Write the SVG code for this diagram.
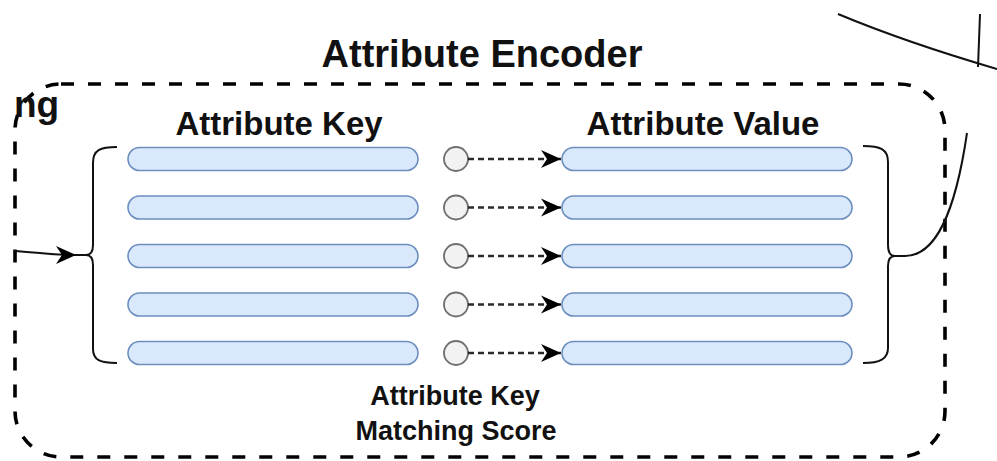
<svg xmlns="http://www.w3.org/2000/svg" width="997" height="461" viewBox="0 0 997 461">
<style>
text{font-family:"Liberation Sans",Arial,sans-serif;font-weight:bold;fill:#111;}
.bar{fill:#dae8fc;stroke:#6c8ebf;stroke-width:1.6;}
.dot{fill:#f2f2f2;stroke:#6e6e6e;stroke-width:1.8;}
.dash{fill:none;stroke:#2a2a2a;stroke-width:2.4;stroke-dasharray:6 4;}
.line{fill:none;stroke:#111;stroke-width:2;}
.frame{fill:none;stroke:#000;stroke-width:3.6;stroke-dasharray:13 14;}
</style>
<defs>
<marker id="ah" markerUnits="userSpaceOnUse" markerWidth="22" markerHeight="20" refX="20" refY="10" orient="auto">
<path d="M0,1 L20,10 L0,19 L6,10 Z" fill="#000" stroke="none"/>
</marker>
</defs>
<g id="outside-lines">
<path class="line" d="M838 14 Q905 42 997 69"/>
<path class="line" d="M980 14 L978 67"/>
</g>
<g id="encoder-frame">
<rect class="frame" x="15" y="84" width="930" height="373" rx="46" ry="46"/>
<text x="482" y="67" font-size="38" text-anchor="middle">Attribute Encoder</text>
<text x="14" y="117" font-size="37">ng</text>
</g>
<g id="key-header"><text x="279" y="135" font-size="33" text-anchor="middle">Attribute Key</text></g>
<g id="value-header"><text x="703" y="135" font-size="33" text-anchor="middle">Attribute Value</text></g>
<g id="keys">
<rect class="bar" x="128" y="147.5" width="290" height="23" rx="11.5"/>
<rect class="bar" x="128" y="196" width="290" height="23" rx="11.5"/>
<rect class="bar" x="128" y="244.5" width="290" height="23" rx="11.5"/>
<rect class="bar" x="128" y="293" width="290" height="23" rx="11.5"/>
<rect class="bar" x="128" y="341.5" width="290" height="23" rx="11.5"/>
</g>
<g id="values">
<rect class="bar" x="562" y="147.5" width="290" height="23" rx="11.5"/>
<rect class="bar" x="562" y="196" width="290" height="23" rx="11.5"/>
<rect class="bar" x="562" y="244.5" width="290" height="23" rx="11.5"/>
<rect class="bar" x="562" y="293" width="290" height="23" rx="11.5"/>
<rect class="bar" x="562" y="341.5" width="290" height="23" rx="11.5"/>
</g>
<g id="scores">
<circle class="dot" cx="456" cy="159" r="12"/>
<circle class="dot" cx="456" cy="207.5" r="12"/>
<circle class="dot" cx="456" cy="256" r="12"/>
<circle class="dot" cx="456" cy="304.5" r="12"/>
<circle class="dot" cx="456" cy="353" r="12"/>
</g>
<g id="left-brace"><path class="line" d="M117 147 C100 147 93 150 93 163 L93 245 C93 252 91 255 86 255 C91 255 93 258 93 265 L93 349 C93 360 100 363 117 363"/></g>
<g id="right-brace"><path class="line" d="M863 146 C880 146 888 149 888 162 L888 245 C888 252 890 256 895 256 C890 256 888 259 888 266 L888 348 C888 359 880 363 863 363"/></g>
<g id="score-label"><text x="455" y="405" font-size="27" text-anchor="middle">Attribute Key</text><text x="456" y="440" font-size="27" text-anchor="middle">Matching Score</text></g>
<g id="connectors">
<path class="dash" d="M468 159 L561 159" marker-end="url(#ah)"/>
<path class="dash" d="M468 207.5 L561 207.5" marker-end="url(#ah)"/>
<path class="dash" d="M468 256 L561 256" marker-end="url(#ah)"/>
<path class="dash" d="M468 304.5 L561 304.5" marker-end="url(#ah)"/>
<path class="dash" d="M468 353 L561 353" marker-end="url(#ah)"/>
<path class="line" d="M14 251 C35 252 50 255 76 255" marker-end="url(#ah)"/>
<path class="line" d="M76 255 L88 255"/>
<path class="line" d="M894 256 L905 256 C935 256 955 215 967 133"/>
</g>
</svg>
